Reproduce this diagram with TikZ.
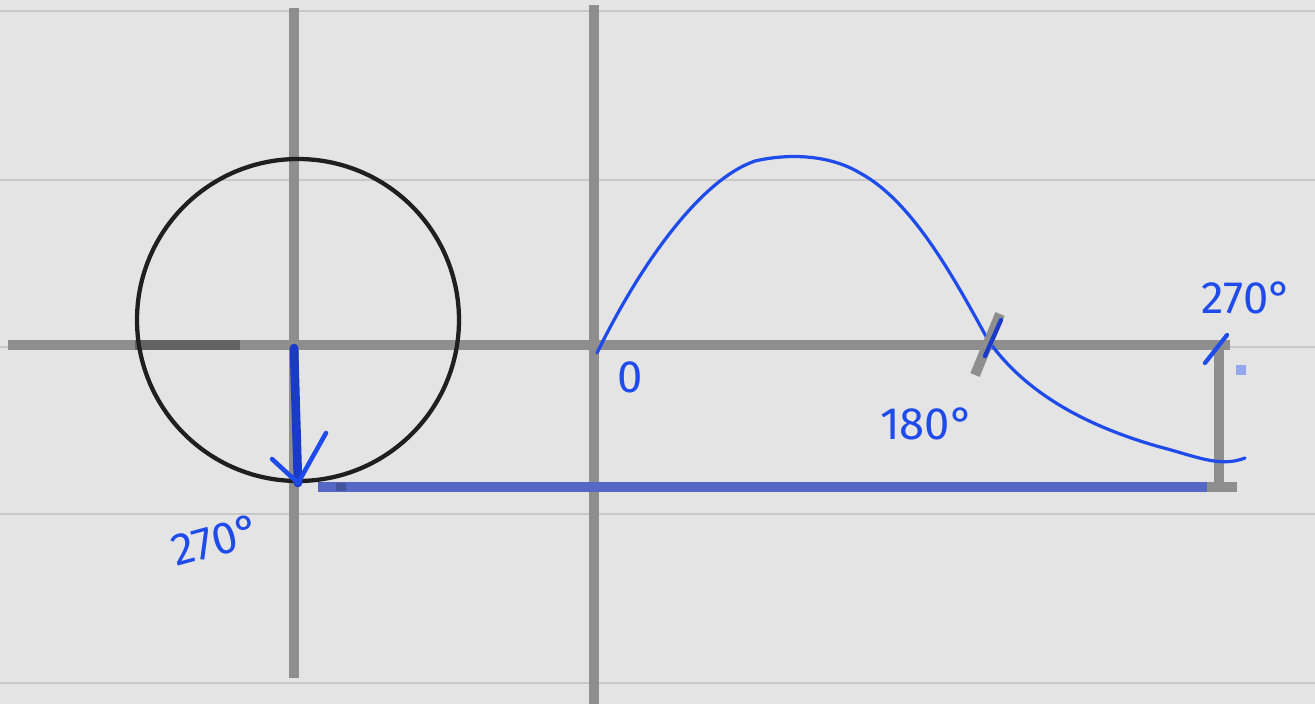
\documentclass[tikz,border=0pt]{standalone}
\usepackage{fontspec}
\setmainfont{Fira Sans}
\definecolor{bgc}{HTML}{E4E4E4}
\definecolor{rulec}{HTML}{C8C8C8}
\definecolor{axc}{HTML}{8E8E8E}
\definecolor{inkblue}{HTML}{1F4BEA}
\definecolor{darkblue}{HTML}{1A3AC8}
\definecolor{barblue}{HTML}{5468C4}
\definecolor{sqblue}{HTML}{94A6EE}
\tikzset{
  ruled/.style={draw=rulec, line width=1.6pt},
  axis/.style={draw=axc, line width=7.5pt},
  curveink/.style={draw=inkblue, line width=2.4pt, line cap=round, line join=round},
  lbl/.style={text=inkblue, font=\fontsize{34}{34}\selectfont, inner sep=0pt}
}
\begin{document}
\begin{tikzpicture}[x=0.75pt,y=-0.75pt]
\useasboundingbox (0,0) rectangle (1315,704);
\fill[bgc] (0,0) rectangle (1315,704);
% ruled lines
\foreach \yy in {11,180,347,514,683} \draw[ruled] (0,\yy) -- (1315,\yy);
% coordinates
\coordinate (ax1top) at (294,8);
\coordinate (ax1bot) at (294,678);
\coordinate (ax2top) at (594,5);
\coordinate (ax2bot) at (594,704);
\coordinate (hl) at (8,345);
\coordinate (hr) at (1230,345);
\coordinate (c) at (298,320);
\coordinate (o) at (294,348);
\coordinate (bot) at (298,483);
% axes
\draw[axis] (ax1top) -- (ax1bot);
\draw[axis] (ax2top) -- (ax2bot);
\draw[axis] (hl) -- (hr);
\draw[draw=axc!70!black, line width=7.5pt] (135,345) -- (240,345);
\coordinate (rt) at (1219,345);
\coordinate (rb) at (1219,487);
\draw[axis] (rt) -- (rb);
\draw[axis] (1205,487) -- (1237,487);
% bar
\coordinate (barl) at (318,487);
\coordinate (barr) at (1207,487);
\draw[draw=barblue, line width=7.5pt] (barl) -- (barr);
\fill[barblue!80!black] (336,483) rectangle (346,491);
% circle
\draw[draw=black!88, line width=3.2pt] (c) circle (161);
% arrow
\draw[draw=darkblue, line width=6.5pt, line cap=round] (o) -- (bot);
\draw[draw=inkblue, line width=3.4pt, line cap=round, line join=round] (272,459) -- (bot) -- (326,433);
% sine-like curve
\coordinate (s0) at (597,353);
\draw[curveink] (s0) .. controls (640,265) and (700,180) .. (755,161)
  .. controls (790,153) and (830,155) .. (860,173)
  .. controls (910,200) and (950,270) .. (988,340)
  .. controls (1030,400) and (1100,430) .. (1160,447)
  .. controls (1195,456) and (1220,468) .. (1245,458);
% 180 tick
\draw[draw=axc, line width=7.5pt] (1000,314) -- (975,375);
\draw[draw=darkblue, line width=3.2pt, line cap=round] (1001,320) -- (985,356);
% 270 tick
\draw[draw=inkblue, line width=3.2pt, line cap=round] (1205,363) -- (1227,335);
\fill[sqblue] (1236,365) rectangle (1246,375);
% labels
\node[lbl] (zero) at (630,377) {0};
\node[lbl] (l180) at (927,424) {180°};
\node[lbl] (l270r) at (1247,298) {270°};
\node[lbl, rotate=15] (l270l) at (216,540) {270°};
\end{tikzpicture}
\end{document}
